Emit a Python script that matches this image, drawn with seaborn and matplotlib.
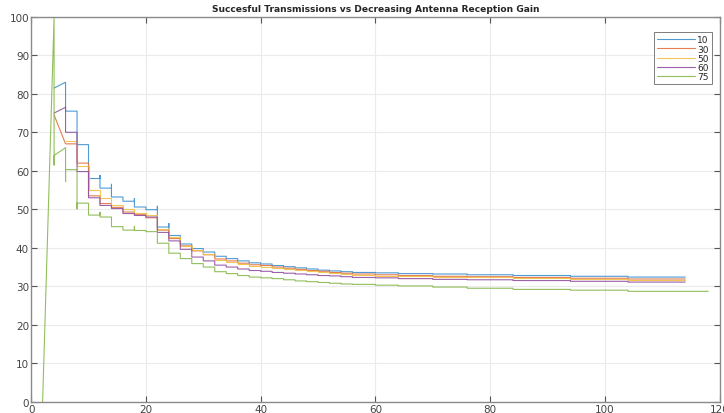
import matplotlib
matplotlib.use("Agg")
import matplotlib.pyplot as plt
import pandas as pd
import seaborn as sns

# step edges (x) shared by the series
edges = [4, 6, 8, 10, 12, 14, 16, 18, 20, 22, 24, 26, 28, 30, 32, 34, 36, 38, 40,
         42, 44, 46, 48, 50, 52, 54, 56, 60, 64, 70, 76, 84, 94, 104, 114]
edges_75 = edges[:-1] + [118]

labels = ["10", "30", "50", "60", "75"]

# first interval (4-6) drawn as a slanted segment: (start, end)
first_10 = (81.5, 83.0)
first_30 = (74.5, 67.0)
first_50 = None
first_60 = (75.0, 76.5)
first_75 = (64.0, 66.0)

# levels for the intervals from 6-8 onwards
lvl_10 = [75.5, 66.8, 58.0, 55.5, 53.2, 52.1, 50.6, 49.9, 45.4, 43.2,
          41.0, 39.8, 38.9, 37.8, 37.2, 36.6, 36.1, 35.8, 35.4, 35.1,
          34.8, 34.5, 34.2, 34.0, 33.8, 33.6, 33.5, 33.3, 33.2, 33.0,
          32.8, 32.6, 32.4]
lvl_30 = [67.0, 62.0, 53.5, 51.5, 50.5, 49.3, 48.6, 47.8, 44.6, 42.4,
          40.5, 39.2, 38.2, 37.1, 36.6, 36.0, 35.6, 35.4, 35.0, 34.7,
          34.4, 34.1, 33.9, 33.6, 33.4, 33.2, 33.0, 32.8, 32.6, 32.5,
          32.3, 32.1, 31.9]
lvl_50 = [67.8, 61.2, 55.0, 53.0, 51.0, 50.0, 49.0, 48.5, 45.0, 42.8,
          40.6, 39.4, 38.3, 36.8, 36.3, 35.8, 35.3, 35.1, 34.8, 34.5,
          34.2, 34.0, 33.7, 33.4, 33.2, 33.0, 32.8, 32.6, 32.4, 32.3,
          32.1, 31.8, 31.6]
lvl_60 = [70.0, 59.8, 53.0, 51.0, 50.2, 48.9, 48.4, 48.0, 44.0, 41.8,
          39.6, 37.6, 36.6, 35.5, 35.0, 34.5, 34.1, 33.9, 33.6, 33.4,
          33.2, 33.0, 32.8, 32.7, 32.5, 32.3, 32.2, 32.0, 31.8, 31.7,
          31.5, 31.3, 31.1]
lvl_75 = [60.3, 51.6, 48.5, 48.0, 45.5, 44.6, 44.5, 44.2, 41.2, 38.6,
          37.2, 35.9, 35.0, 33.8, 33.3, 32.8, 32.4, 32.2, 32.0, 31.7,
          31.4, 31.2, 31.0, 30.8, 30.6, 30.5, 30.3, 30.1, 29.8, 29.5,
          29.2, 29.0, 28.7]

# little overshoots of the vertical jumps at some steps
spikes_10 = {12: 58.8, 14: 56.5, 18: 52.8, 22: 50.8, 24: 46.3}
spikes_30 = {}
spikes_50 = {}
spikes_60 = {}
spikes_75 = {6: 57.2, 8: 50.1, 12: 49.2, 18: 45.6}

# leading ramp of the 75 series
lead_75_x = [2, 4, 4]
lead_75_y = [0, 100, 61.5]


def build(e, first, lvl, spikes, lead_x=(), lead_y=()):
    xs, ys = list(lead_x), list(lead_y)
    if first is not None:
        xs += [e[0], e[1]]
        ys += [first[0], first[1]]
    for i, v in enumerate(lvl):
        x0, x1 = e[i + 1], e[i + 2]
        if x0 in spikes:
            xs.append(x0)
            ys.append(spikes[x0])
        xs += [x0, x1]
        ys += [v, v]
    return xs, ys


series = [
    build(edges, first_10, lvl_10, spikes_10),
    build(edges, first_30, lvl_30, spikes_30),
    build(edges, first_50, lvl_50, spikes_50),
    build(edges, first_60, lvl_60, spikes_60),
    build(edges_75, first_75, lvl_75, spikes_75, lead_75_x, lead_75_y),
]

frames = []
for lab, (xs, ys) in zip(labels, series):
    frames.append(pd.DataFrame({"x": xs, "y": ys, "gain": lab}))
df = pd.concat(frames, ignore_index=True)

colors = ["#3d8fd0", "#e0703f", "#f0c045", "#9150a0", "#86b84a"]

sns.set_theme(style="whitegrid")
plt.rcParams["font.family"] = ["DejaVu Sans"]

fig = plt.figure(figsize=(7.24, 4.14), dpi=100)
ax = fig.add_axes([0.043, 0.027, 0.951, 0.930])

sns.lineplot(data=df, x="x", y="y", hue="gain", palette=colors, sort=False,
             estimator=None, linewidth=0.8, alpha=0.9, ax=ax)

ax.set_xlim(0, 120)
ax.set_ylim(0, 100)
ax.set_xticks(range(0, 121, 20))
ax.set_yticks(range(0, 101, 10))
ax.set_xlabel("")
ax.set_ylabel("")
ax.grid(True, color="#ebebeb", linewidth=0.8)
for s in ax.spines.values():
    s.set_color("#8a8a8a")
    s.set_linewidth(1.0)
ax.tick_params(direction="in", length=4, width=0.8, color="#555555",
               labelsize=7.5, labelcolor="#444444", top=True, right=True,
               bottom=True, left=True, pad=1.5)

ax.set_title("Succesful Transmissions vs Decreasing Antenna Reception Gain",
             fontsize=6.6, fontweight="bold", pad=4)

leg = ax.legend(loc="upper right", bbox_to_anchor=(0.989, 0.96), fontsize=6.5,
                frameon=True, fancybox=False, handlelength=4.2, handletextpad=0.3,
                labelspacing=0.02, borderpad=0.35, borderaxespad=0)
leg.get_frame().set_edgecolor("#444444")
leg.get_frame().set_linewidth(0.6)

fig.savefig("out.png", dpi=100)
